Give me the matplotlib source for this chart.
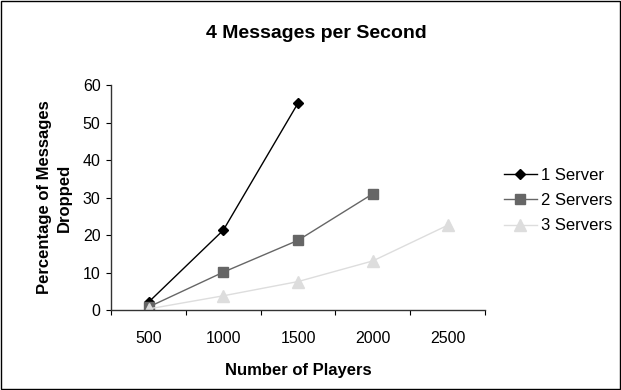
import matplotlib
matplotlib.use("Agg")
import matplotlib.pyplot as plt
from matplotlib.patches import Rectangle

plt.rcParams['font.family'] = ['Liberation Sans', 'DejaVu Sans']

players = ["500", "1000", "1500", "2000", "2500"]
one_server = [2.1, 21.3, 55.2]
two_servers = [0.8, 10.1, 18.6, 31.0]
three_servers = [0.3, 3.8, 7.6, 13.1, 22.6]

fig = plt.figure(figsize=(6.21, 3.90), dpi=100)
ax = fig.add_axes([0.179, 0.205, 0.602, 0.577])

ax.plot(range(len(one_server)), one_server, color='black', marker='D', markersize=5,
        linewidth=1, label='1 Server')
ax.plot(range(len(two_servers)), two_servers, color='#666666', marker='s', markersize=7,
        linewidth=1, label='2 Servers')
ax.plot(range(len(three_servers)), three_servers, color='#dddddd', marker='^', markersize=8,
        linewidth=1, label='3 Servers')

ax.set_xlim(-0.5, len(players) - 0.5)
ax.set_ylim(0, 60)
ax.set_yticks(range(0, 61, 10))
ax.set_xticks([i - 0.5 for i in range(len(players) + 1)])
ax.set_xticklabels([])
ax.set_xticks(range(len(players)), labels=players, minor=True)
ax.tick_params(axis='x', which='minor', length=0, pad=15, labelsize=11.5)
ax.tick_params(axis='x', which='major', length=3.6, direction='out', color='black')
ax.tick_params(axis='y', length=3.6, direction='out', labelsize=11.5, pad=4)

for s in ['top', 'right']:
    ax.spines[s].set_visible(False)
for s in ['left', 'bottom']:
    ax.spines[s].set_color('#333333')
    ax.spines[s].set_linewidth(1)

fig.text(0.51, 0.915, '4 Messages per Second', fontsize=14, fontweight='bold',
         ha='center', va='center')
ax.set_xlabel('Number of Players', fontsize=12, fontweight='bold', labelpad=12)
ax.set_ylabel('Percentage of Messages\nDropped', fontsize=12, fontweight='bold', labelpad=8,
              linespacing=1.35)

ax.legend(loc='upper left', bbox_to_anchor=(1.05, 0.632), frameon=False, fontsize=12,
          handlelength=2.0, handletextpad=0.25, labelspacing=0.62, borderaxespad=0,
          borderpad=0)

fig.patches.append(Rectangle((0.002, 0.003), 0.996, 0.994, transform=fig.transFigure,
                             fill=False, edgecolor='black', linewidth=1))

fig.savefig('out.png', dpi=100)
